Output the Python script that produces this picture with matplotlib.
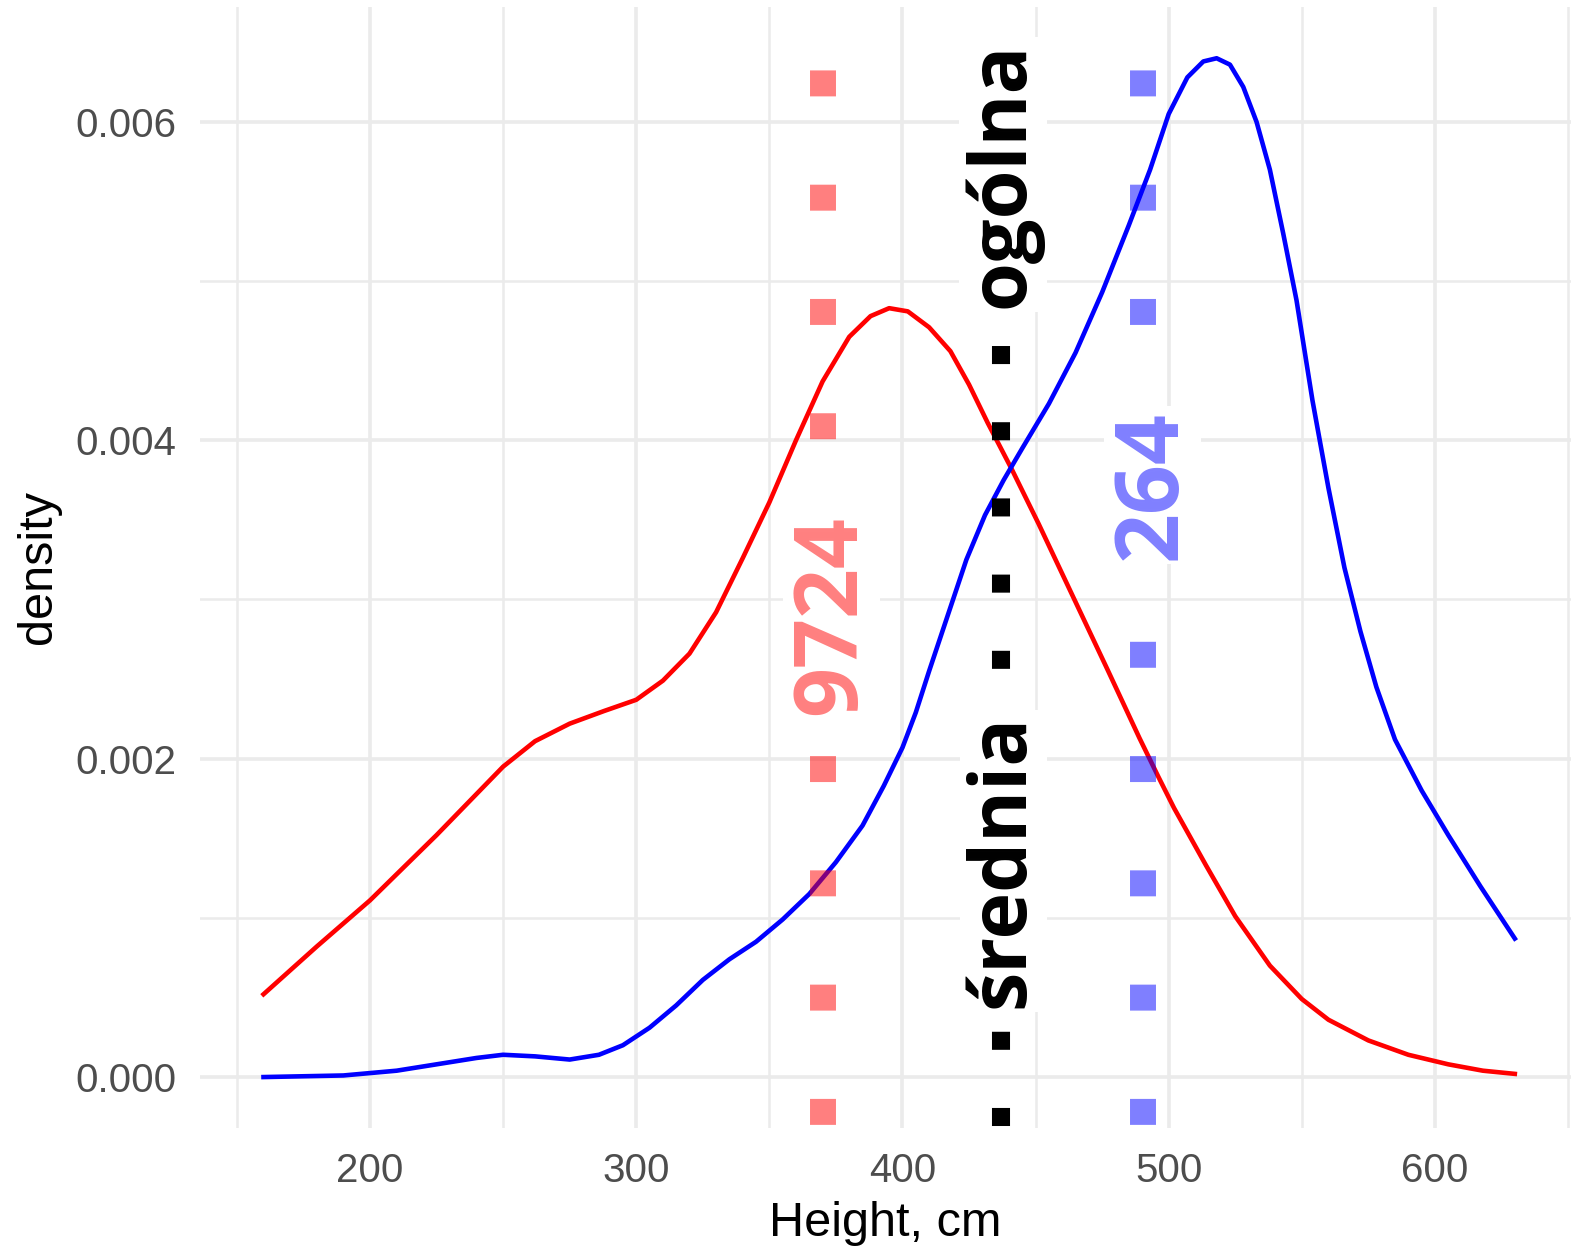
import matplotlib as mpl
mpl.use('Agg')
import matplotlib.pyplot as plt
import numpy as np
from matplotlib.ticker import MultipleLocator

# density curves
red_x = [160, 180, 200, 225, 250, 262, 275, 288, 300, 310, 320, 330, 340, 350,
         360, 370, 380, 388, 395, 402, 410, 418, 425, 432, 441, 451, 464, 477,
         489, 496, 502, 514, 525, 538, 550, 560, 575, 590, 605, 618, 630]
red_y = [0.00052, 0.00082, 0.00111, 0.00152, 0.00195, 0.00211, 0.00222, 0.00230,
         0.00237, 0.00249, 0.00266, 0.00292, 0.00326, 0.00361, 0.00400, 0.00437,
         0.00465, 0.00478, 0.00483, 0.00481, 0.00471, 0.00456, 0.00435, 0.00411,
         0.00382, 0.00348, 0.00302, 0.00256, 0.00213, 0.00189, 0.00169, 0.00133,
         0.00101, 0.00070, 0.00049, 0.00036, 0.00023, 0.00014, 0.00008, 0.00004,
         0.00002]

blue_x = [160, 190, 210, 225, 240, 250, 262, 275, 286, 295, 305, 315, 325, 335,
          345, 355, 365, 375, 385, 393, 400, 405, 410, 417, 424, 431, 438, 445,
          455, 465, 475, 485, 493, 500, 507, 513, 518, 523, 528, 533, 538, 543,
          548, 554, 560, 566, 572, 578, 585, 595, 605, 617, 630]
blue_y = [0.00000, 0.00001, 0.00004, 0.00008, 0.00012, 0.00014, 0.00013, 0.00011,
          0.00014, 0.00020, 0.00031, 0.00045, 0.00061, 0.00074, 0.00085, 0.00099,
          0.00115, 0.00135, 0.00158, 0.00183, 0.00207, 0.00229, 0.00255, 0.00290,
          0.00325, 0.00353, 0.00375, 0.00395, 0.00423, 0.00455, 0.00493, 0.00535,
          0.00570, 0.00605, 0.00628, 0.00638, 0.00640, 0.00636, 0.00622, 0.00600,
          0.00570, 0.00530, 0.00488, 0.00425, 0.00370, 0.00320, 0.00280, 0.00245,
          0.00212, 0.00180, 0.00152, 0.00120, 0.00087]

# mean lines and their labels
mean_red = 370
mean_all = 437
mean_blue = 490.5
lab_red, lab_red_y = "9724", 0.0029
lab_blue, lab_blue_y = "264", 0.00372
lab_all = ["średnia", "ogólna"]
lab_all_y = [0.00136, 0.00567]

fig = plt.figure(figsize=(15.71, 12.5), dpi=100)
ax = fig.add_axes([200/1571, 122/1250, 1371/1571, 1121/1250])
ax.set_xlim(136.15, 651.1)
ax.set_ylim(-0.00032, 0.006722)

for s in ax.spines.values():
    s.set_visible(False)
ax.xaxis.set_major_locator(MultipleLocator(100))
ax.xaxis.set_minor_locator(MultipleLocator(50))
ax.yaxis.set_major_locator(MultipleLocator(0.002))
ax.yaxis.set_minor_locator(MultipleLocator(0.001))
ax.yaxis.set_major_formatter(lambda v, p: f"{v:.3f}")
ax.tick_params(which='both', length=0)
ax.tick_params(which='major', labelsize=29, labelcolor='#4D4D4D', pad=17)
for lab in ax.get_xticklabels() + ax.get_yticklabels():
    lab.set_family('Liberation Sans')
ax.grid(which='major', color='#EBEBEB', lw=2.6)
ax.grid(which='minor', color='#EBEBEB', lw=1.8)
ax.set_axisbelow(True)

ax.plot(red_x, red_y, color='red', lw=3.3, zorder=2, solid_joinstyle='round')
ax.plot(blue_x, blue_y, color='blue', lw=3.3, zorder=2, solid_joinstyle='round')

ax.axvline(mean_red, color='red', alpha=0.5, lw=18.7,
           linestyle=(4.28, (1, 3.4)), zorder=3)
ax.axvline(mean_blue, color='blue', alpha=0.5, lw=18.7,
           linestyle=(4.28, (1, 3.4)), zorder=3)
ax.axvline(mean_all, color='black', lw=13,
           linestyle=(4.11, (1, 3.22)), zorder=3)

box = dict(boxstyle='square,pad=0.05', fc='white', ec='none')
kw = dict(rotation=90, ha='center', va='center',
          family='Open Sans', weight='bold', textcoords='offset points',
          bbox=box, zorder=4)
ax.annotate(lab_red, (mean_red, lab_red_y), xytext=(6.5, 0), color='#FF8080',
            fontsize=63, **kw)
ax.annotate(lab_blue, (mean_blue, lab_blue_y), xytext=(6.5, 0), color='#8080FF',
            fontsize=63, **kw)
for t, yy in zip(lab_all, lab_all_y):
    ax.annotate(t, (mean_all, yy), xytext=(1.5, 0), color='black',
                fontsize=57, **kw)

ax.set_xlabel('Height, cm', fontsize=35, family='Liberation Sans', labelpad=8)
ax.set_ylabel('density', fontsize=35, family='Liberation Sans', labelpad=10)

fig.savefig('out.png', dpi=100, facecolor='white')
